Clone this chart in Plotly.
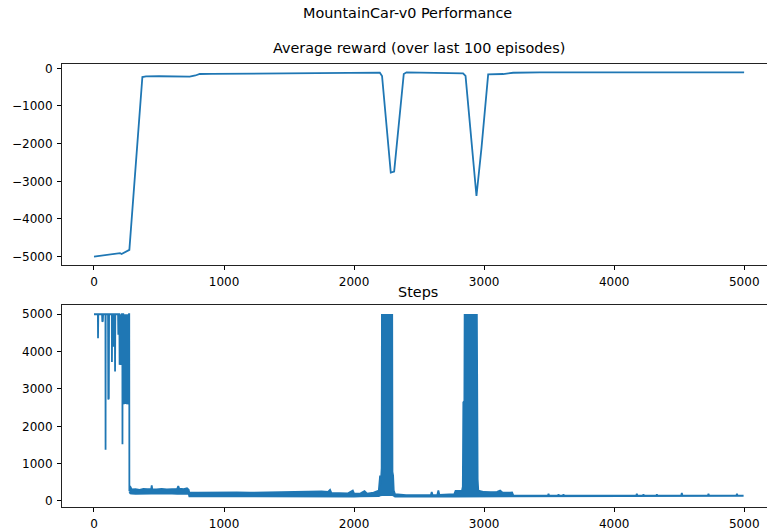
import plotly.graph_objects as go

BLUE = "#1f77b4"

# ---- Average reward (over last 100 episodes) ----
reward_ep = [0, 20, 50, 80, 110, 140, 170, 200, 212, 230, 250, 265, 272,
             372, 400, 500, 600, 700, 736, 780, 813, 900, 1000, 1100, 1200,
             1300, 1400, 1500, 1600, 1700, 1800, 1900, 2000, 2100, 2198,
             2215, 2282, 2308, 2382, 2403, 2500, 2600, 2700, 2800, 2838,
             2857, 2941, 2980, 3031, 3146, 3223, 3428, 3800, 4200, 4600, 4999]
reward_val = [-5000, -4990, -4985, -4970, -4960, -4940, -4920, -4905, -4930,
              -4890, -4860, -4830, -4820,
              -230, -215, -210, -212, -218, -222, -190, -151, -148, -145,
              -140, -135, -135, -132, -128, -130, -133, -130, -125, -120,
              -118, -116,
              -204, -2770, -2744, -151, -106, -110, -112, -115, -118, -133,
              -204, -3390, -2100, -160, -151, -117, -106, -106, -106, -106,
              -106]

# ---- Steps: early episodes (individual dips) ----
early_ep = [0, 30, 31, 33, 62, 64, 66, 68, 70, 88, 89, 90, 108, 110, 112, 114,
            116, 137, 138, 140, 148, 149, 150, 160, 162, 164, 185, 187, 189,
            195, 197, 199, 201, 203, 205, 207, 209, 211, 213, 215, 218, 219,
            220, 225, 227, 229, 231, 233, 235, 237, 239, 241, 243, 245, 247,
            249, 251, 253, 255, 257, 259, 261, 263, 265, 267, 269, 271, 272]
early_val = [5000, 5000, 4360, 5000, 5000, 4800, 5000, 4820, 5000, 5000, 1370,
             5000, 5000, 2720, 5000, 2750, 5000, 5000, 3720, 5000, 5000, 4130,
             5000, 5000, 3470, 5000, 5000, 4450, 5000, 5000, 3650, 5000, 3700,
             5000, 3650, 5000, 3700, 5000, 3650, 5000, 5000, 1520, 5000, 5000,
             2600, 5000, 2620, 5000, 2600, 5000, 2600, 5000, 2620, 5000, 2600,
             5000, 2600, 5000, 2610, 5000, 2600, 5000, 2620, 5000, 2600, 5000,
             5000, 260]

# ---- Steps: noisy band after episode 272 (lower / upper edge) ----
band_ep = [272, 280, 290, 320, 350, 380, 410, 440, 444, 448, 480, 520, 560,
           600, 640, 648, 655, 690, 715, 728, 733, 800, 900, 1000, 1100, 1200,
           1300, 1420, 1450, 1550, 1650, 1750, 1800, 1815, 1825, 1900, 1950,
           1990, 2000, 2050, 2080, 2100, 2150, 2190, 2200, 2205, 2212, 2214,
           2293, 2295, 2300, 2305, 2315, 2400, 2500, 2590, 2597, 2604, 2640,
           2648, 2656, 2700, 2770, 2780, 2830, 2836, 2840, 2848, 2850, 2944,
           2946, 2950, 2955, 3000, 3050, 3100, 3123, 3140, 3200, 3215, 3225,
           3300, 3400, 3490, 3495, 3500, 3567, 3572, 3577, 3605, 3610, 3615,
           3800, 4000, 4169, 4174, 4179, 4220, 4225, 4230, 4323, 4328, 4333,
           4515, 4520, 4525, 4720, 4725, 4730, 4939, 4944, 4949, 4995]
band_lo = [240, 200, 195, 190, 200, 195, 190, 195, 195, 195, 190, 195, 190,
           195, 190, 190, 195, 190, 195, 190, 125, 125, 128, 125, 125, 128,
           125, 125, 130, 130, 128, 130, 128, 125, 125, 122, 120, 120, 120,
           122, 120, 122, 122, 130, 150, 150, 160, 160, 160, 160, 150, 140,
           115, 112, 115, 112, 112, 112, 112, 112, 112, 115, 115, 120, 120,
           125, 130, 130, 140, 140, 130, 125, 120, 122, 122, 122, 122, 122,
           122, 122, 122, 120, 120, 120, 120, 120, 120, 120, 120, 120, 120,
           120, 120, 120, 120, 120, 120, 120, 120, 120, 120, 120, 120, 120,
           120, 120, 120, 120, 120, 120, 120, 120, 120]
band_hi = [400, 380, 310, 320, 300, 325, 315, 320, 420, 320, 310, 325, 310,
           320, 325, 400, 330, 315, 340, 300, 225, 220, 225, 220, 230, 220,
           225, 230, 250, 255, 250, 260, 245, 300, 215, 210, 200, 280, 195,
           205, 265, 195, 225, 280, 680, 430, 880, 4980, 4980, 780, 680, 280,
           180, 155, 160, 155, 240, 155, 160, 280, 160, 165, 180, 270, 280,
           380, 2640, 2680, 4980, 4980, 1180, 580, 280, 240, 235, 245, 280,
           230, 220, 225, 145, 140, 140, 140, 190, 140, 140, 180, 140, 140,
           180, 140, 140, 138, 140, 190, 140, 140, 180, 140, 140, 180, 140,
           140, 215, 140, 140, 190, 140, 140, 190, 140, 140]

x_ticks = [0, 1000, 2000, 3000, 4000, 5000]
x_tick_text = ["0", "1000", "2000", "3000", "4000", "5000"]
reward_ticks = [0, -1000, -2000, -3000, -4000, -5000]
reward_tick_text = ["0", "−1000", "−2000", "−3000", "−4000", "−5000"]
steps_ticks = [0, 1000, 2000, 3000, 4000, 5000]
steps_tick_text = ["0", "1000", "2000", "3000", "4000", "5000"]

fig = go.Figure()

fig.add_trace(go.Scatter(x=reward_ep, y=reward_val, mode="lines",
                         line=dict(color=BLUE, width=1.8),
                         xaxis="x", yaxis="y", showlegend=False,
                         hoverinfo="skip"))

fig.add_trace(go.Scatter(x=band_ep + band_ep[::-1],
                         y=band_hi + band_lo[::-1],
                         mode="lines", fill="toself", fillcolor=BLUE,
                         line=dict(color=BLUE, width=1.8),
                         xaxis="x2", yaxis="y2", showlegend=False,
                         hoverinfo="skip"))

fig.add_trace(go.Scatter(x=early_ep, y=early_val, mode="lines",
                         line=dict(color=BLUE, width=1.8),
                         xaxis="x2", yaxis="y2", showlegend=False,
                         hoverinfo="skip"))

FONT = "DejaVu Sans"
L, W, H = 62, 767, 531
PW = W - L

def xaxis_common(anchor):
    return dict(range=[-246, 5175], tickvals=x_ticks, ticktext=x_tick_text,
                ticks="outside", ticklen=4, tickwidth=1, tickcolor="#000",
                showline=True, linecolor="#222", linewidth=1, mirror=True,
                showgrid=False, zeroline=False, anchor=anchor,
                ticklabelstandoff=2,
                tickfont=dict(family=FONT, size=12, color="#000"),
                domain=[0, 1], fixedrange=True)

def yaxis_common(rng, vals, text, dom, anchor):
    return dict(range=rng, tickvals=vals, ticktext=text,
                ticks="outside", ticklen=4, tickwidth=1, tickcolor="#000",
                showline=True, linecolor="#222", linewidth=1, mirror=False,
                showgrid=False, zeroline=False, anchor=anchor,
                ticklabelstandoff=2,
                tickfont=dict(family=FONT, size=12, color="#000"),
                domain=dom, fixedrange=True)

fig.update_layout(
    width=W, height=H,
    margin=dict(l=L, r=0, t=0, b=0, autoexpand=False),
    paper_bgcolor="white", plot_bgcolor="white",
    xaxis=xaxis_common("y"),
    yaxis=yaxis_common([-5222, 115], reward_ticks, reward_tick_text,
                       [1 - 265 / H, 1 - 64 / H], "x"),
    xaxis2=xaxis_common("y2"),
    yaxis2=yaxis_common([-153, 5248], steps_ticks, steps_tick_text,
                        [1 - 506.7 / H, 1 - 305 / H], "x2"),
)

def title(text, px, py):
    fig.add_annotation(text=text, xref="paper", yref="paper",
                       x=(px - L) / PW, y=1 - py / H, xanchor="center",
                       yanchor="middle", showarrow=False,
                       font=dict(family=FONT, size=14.4, color="#000"))

title("MountainCar-v0 Performance", 407, 13)
title("Average reward (over last 100 episodes)", 419, 48)
title("Steps", 418, 292)

fig.write_html("out.html", config={"displayModeBar": False})
